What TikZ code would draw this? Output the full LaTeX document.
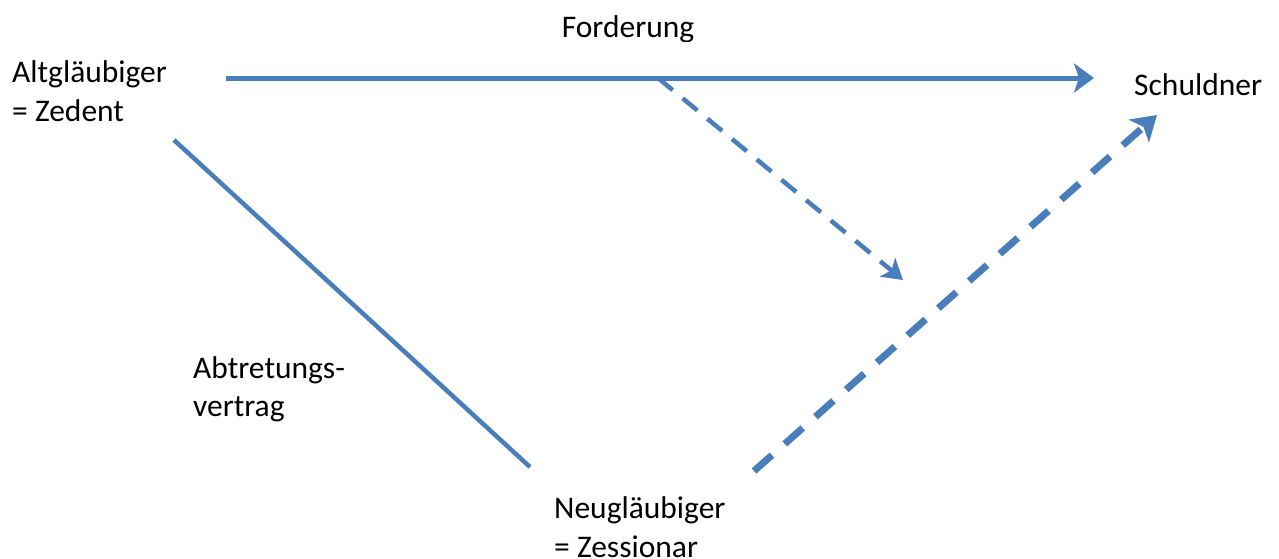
\documentclass[tikz,border=0pt]{standalone}
\usepackage{fontspec}
\setmainfont{Carlito}
\usetikzlibrary{arrows.meta}
\definecolor{lineblue}{RGB}{74,126,187}
\tikzset{
  lbl/.style={inner sep=0pt, anchor=base west, font=\fontsize{31.5}{39}\selectfont, align=left},
  conn/.style={draw=lineblue, line width=5pt},
}
\begin{document}
\begin{tikzpicture}[x=1pt,y=-1pt]
\useasboundingbox (0,0) rectangle (1279,558);
\begin{scope}
\clip (0,0) rectangle (1279,41);
\node[lbl, anchor=base] (ford) at (628,37) {Forderung};
\end{scope}
\node[lbl] (alt) at (12,82) {Altgläubiger};
\node[lbl] (zed) at (12,121) {= Zedent};
\node[lbl] (sch) at (1134,95) {Schuldner};
\node[lbl] (abt) at (193,378) {Abtretungs-};
\node[lbl] (ver) at (193,416) {vertrag};
\node[lbl] (neu) at (554,518) {Neugläubiger};
\node[lbl] (zes) at (554,557) {= Zessionar};
\coordinate (a1) at (226,78);
\coordinate (a2) at (1094,78);
\coordinate (m) at (658,78);
\coordinate (m2) at (903,280);
\coordinate (s1) at (174,140);
\coordinate (s2) at (530,467);
\coordinate (d1) at (754,471);
\coordinate (d2) at (1157,115);
\draw[conn, -{Stealth[length=20pt,width=29pt,inset=5pt]}] (a1) -- (a2);
\draw[conn, line width=4.5pt, dash pattern=on 19pt off 13pt, -{Stealth[length=20pt,width=24pt,inset=5pt]}] (m) -- (m2);
\draw[conn, line width=4.5pt] (s1) -- (s2);
\draw[conn, line width=7pt, dash pattern=on 24pt off 17pt, -{Stealth[length=24pt,width=30pt,inset=6pt]}] (d1) -- (d2);
\end{tikzpicture}
\end{document}
